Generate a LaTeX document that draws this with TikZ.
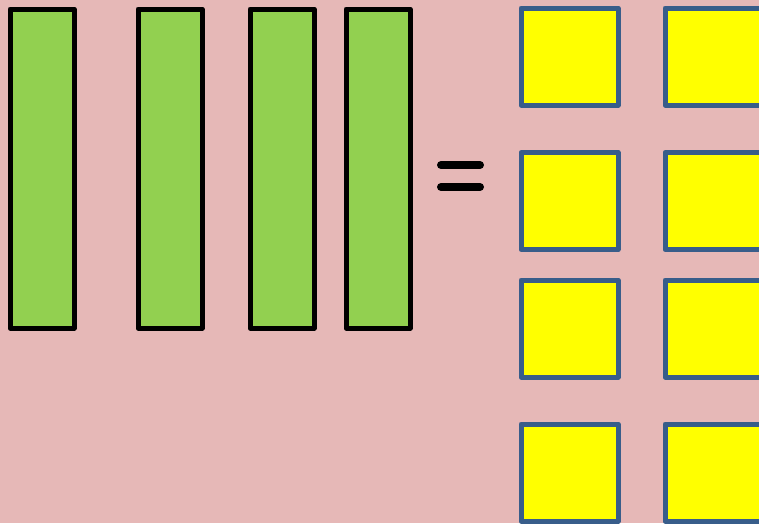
\documentclass[tikz,border=0pt]{standalone}
\usepackage{tikz}
\usetikzlibrary{positioning}
\definecolor{bgpink}{RGB}{230, 184, 183}
\definecolor{longgreen}{RGB}{146, 208, 80}
\definecolor{unityellow}{RGB}{255, 255, 0}
\definecolor{unitblue}{RGB}{56, 93, 138}

\begin{document}
\begin{tikzpicture}[x=1pt,y=-1pt,
    longbar/.style={draw=black,line width=5pt,fill=longgreen,line join=round,
        minimum width=64pt,minimum height=319pt,inner sep=0pt,outer sep=0pt},
    unitsq/.style={draw=unitblue,line width=5pt,fill=unityellow,line join=round,
        minimum width=97pt,minimum height=97pt,inner sep=0pt,outer sep=0pt}]
    % Background and frame
    \fill[bgpink] (0,0) rectangle (759,523);
    \useasboundingbox (0,0) rectangle (759,523);
    \clip (0,0) rectangle (759,523);

    % Four long green bars
    \node[longbar] (bar1) at (42,168.5) {};
    \node[longbar] (bar2) at (170,168.5) {};
    \node[longbar] (bar3) at (282,168.5) {};
    \node[longbar] (bar4) at (378,168.5) {};

    % Equals sign
    \draw[line width=8pt,line cap=round] (441,165) -- (480,165);
    \draw[line width=8pt,line cap=round] (441,187) -- (480,187);

    % Yellow unit squares, two columns
    \foreach \row/\yy in {1/56.5,2/201,3/328.5,4/472.5} {
        \node[unitsq] (sqa\row) at (569.5,\yy) {};
        \node[unitsq] (sqb\row) at (713.5,\yy) {};
    }
\end{tikzpicture}
\end{document}
